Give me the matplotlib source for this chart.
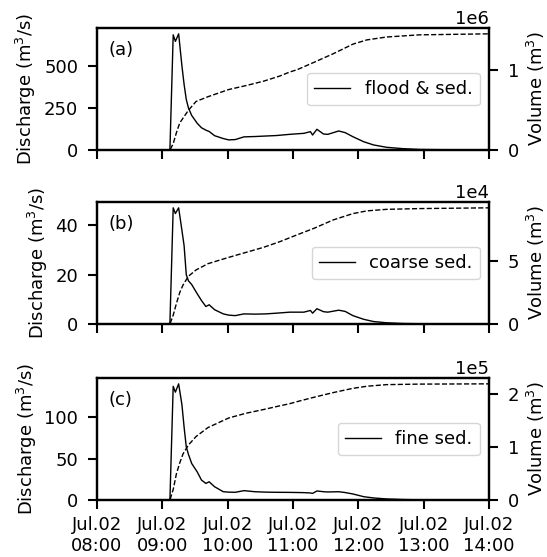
import matplotlib
matplotlib.use('Agg')
import matplotlib.pyplot as plt
import matplotlib.dates as mdates
import numpy as np
import pandas as pd

plt.rcParams['font.size'] = 13

# discharge, minutes after 08:00
t_q = [0, 66, 67, 70, 72, 75, 78, 80, 82, 84, 87, 92, 96, 100, 103, 108, 116, 121, 127, 135,
       145, 155, 165, 177, 190, 196, 198, 202, 208, 212, 222, 228, 235, 245, 254, 266, 281, 297, 330, 360]
q_flood = [0, 0, 5, 684, 645, 690, 500, 390, 300, 250, 205, 159, 132, 118, 110, 85, 68, 60, 62, 78,
           80, 83, 86, 93, 99, 109, 89, 123, 95, 93, 113, 103, 79, 49, 30, 16, 8, 3, 1, 0]
q_coarse = [0, 0, 0.5, 47.1, 44.8, 47.1, 38, 31.8, 20, 17.5, 16, 12.3, 9.5, 7.1, 7.8, 5.8, 4.1, 3.6, 3.4, 4.1,
            4.0, 4.1, 4.4, 4.8, 4.8, 5.5, 4.4, 6.2, 5.0, 4.8, 5.6, 5.1, 3.4, 1.9, 1.0, 0.5, 0.2, 0.1, 0.02, 0]
q_fine = [0, 0, 1, 137, 130, 140, 115, 88, 64, 55, 44, 34, 24, 20, 22, 16, 10, 9.5, 9.3, 11.3,
          10, 9.5, 9.3, 9.2, 8.9, 8.5, 8, 10.9, 10, 9.7, 10, 9, 7.3, 4, 2.5, 1.3, 0.6, 0.2, 0.05, 0]

# cumulative volume, minutes after 08:00
t_v = [0, 67, 70, 73, 76, 79, 84, 91, 102, 121, 137, 153, 168, 177, 184, 199, 217, 235, 248, 266, 296, 360]
v_flood = [0, 0, 0.08, 0.22, 0.34, 0.40, 0.50, 0.61, 0.67, 0.76, 0.81, 0.865, 0.93, 0.98, 1.01, 1.10,
           1.21, 1.33, 1.384, 1.42, 1.447, 1.46]  # x1e6
v_coarse = [0, 0, 0.7, 1.65, 2.5, 3.1, 3.8, 4.3, 4.8, 5.3, 5.7, 6.1, 6.55, 6.86, 7.1, 7.6,
            8.28, 8.78, 9.0, 9.12, 9.18, 9.24]  # x1e4
v_fine = [0, 0, 0.2, 0.5, 0.7, 0.87, 1.04, 1.2, 1.37, 1.55, 1.64, 1.71, 1.78, 1.82, 1.86, 1.94,
          2.03, 2.11, 2.15, 2.18, 2.19, 2.195]  # x1e5

labels = ['flood & sed.', 'coarse sed.', 'fine sed.']
panels = ['(a)', '(b)', '(c)']

base = pd.Timestamp('2020-07-02 08:00')
tq = base + pd.to_timedelta(t_q, unit='min')
tv = base + pd.to_timedelta(t_v, unit='min')

series = [(q_flood, np.array(v_flood) * 1e6),
          (q_coarse, np.array(v_coarse) * 1e4),
          (q_fine, np.array(v_fine) * 1e5)]

fig = plt.figure(figsize=(5.47, 5.57), dpi=100)
bottoms = [0.7307, 0.4183, 0.1023]

for i in range(3):
    ax = fig.add_axes([0.1773, bottoms[i], 0.7166, 0.219])
    q, v = series[i]
    ax.plot(tq, q, c='k', lw=1, label=labels[i])
    ax.set_ylim(bottom=0, top=max(q) * 1.05)
    ax.set_ylabel('Discharge (m$^3$/s)')
    ax2 = ax.twinx()
    ax2.plot(tv, v, c='k', lw=1, ls='--')
    ax2.set_ylim(0, max(v) * 1.05)
    ax2.set_ylabel('Volume (m$^3$)')
    ax2.ticklabel_format(axis='y', style='sci', scilimits=(0, 0))
    ax.set_xlim(base, base + pd.Timedelta(hours=6))
    ax.xaxis.set_major_locator(mdates.HourLocator())
    ax.xaxis.set_major_formatter(mdates.DateFormatter('%b.%d\n%H:%M'))
    if i < 2:
        ax.set_xticklabels([])
    if i == 2:
        ax.set_yticks([0, 50, 100])
    for a in (ax, ax2):
        for s in a.spines.values():
            s.set_linewidth(1.6)
        a.tick_params(axis='y', length=6.5, width=1.5, pad=7)
        a.tick_params(axis='x', length=6.5, width=1.5, pad=5)
    ax.text(0.03, 0.89, panels[i], transform=ax.transAxes, va='top')
    ax.legend(loc='center right')

plt.savefig('out.png', dpi=100)
